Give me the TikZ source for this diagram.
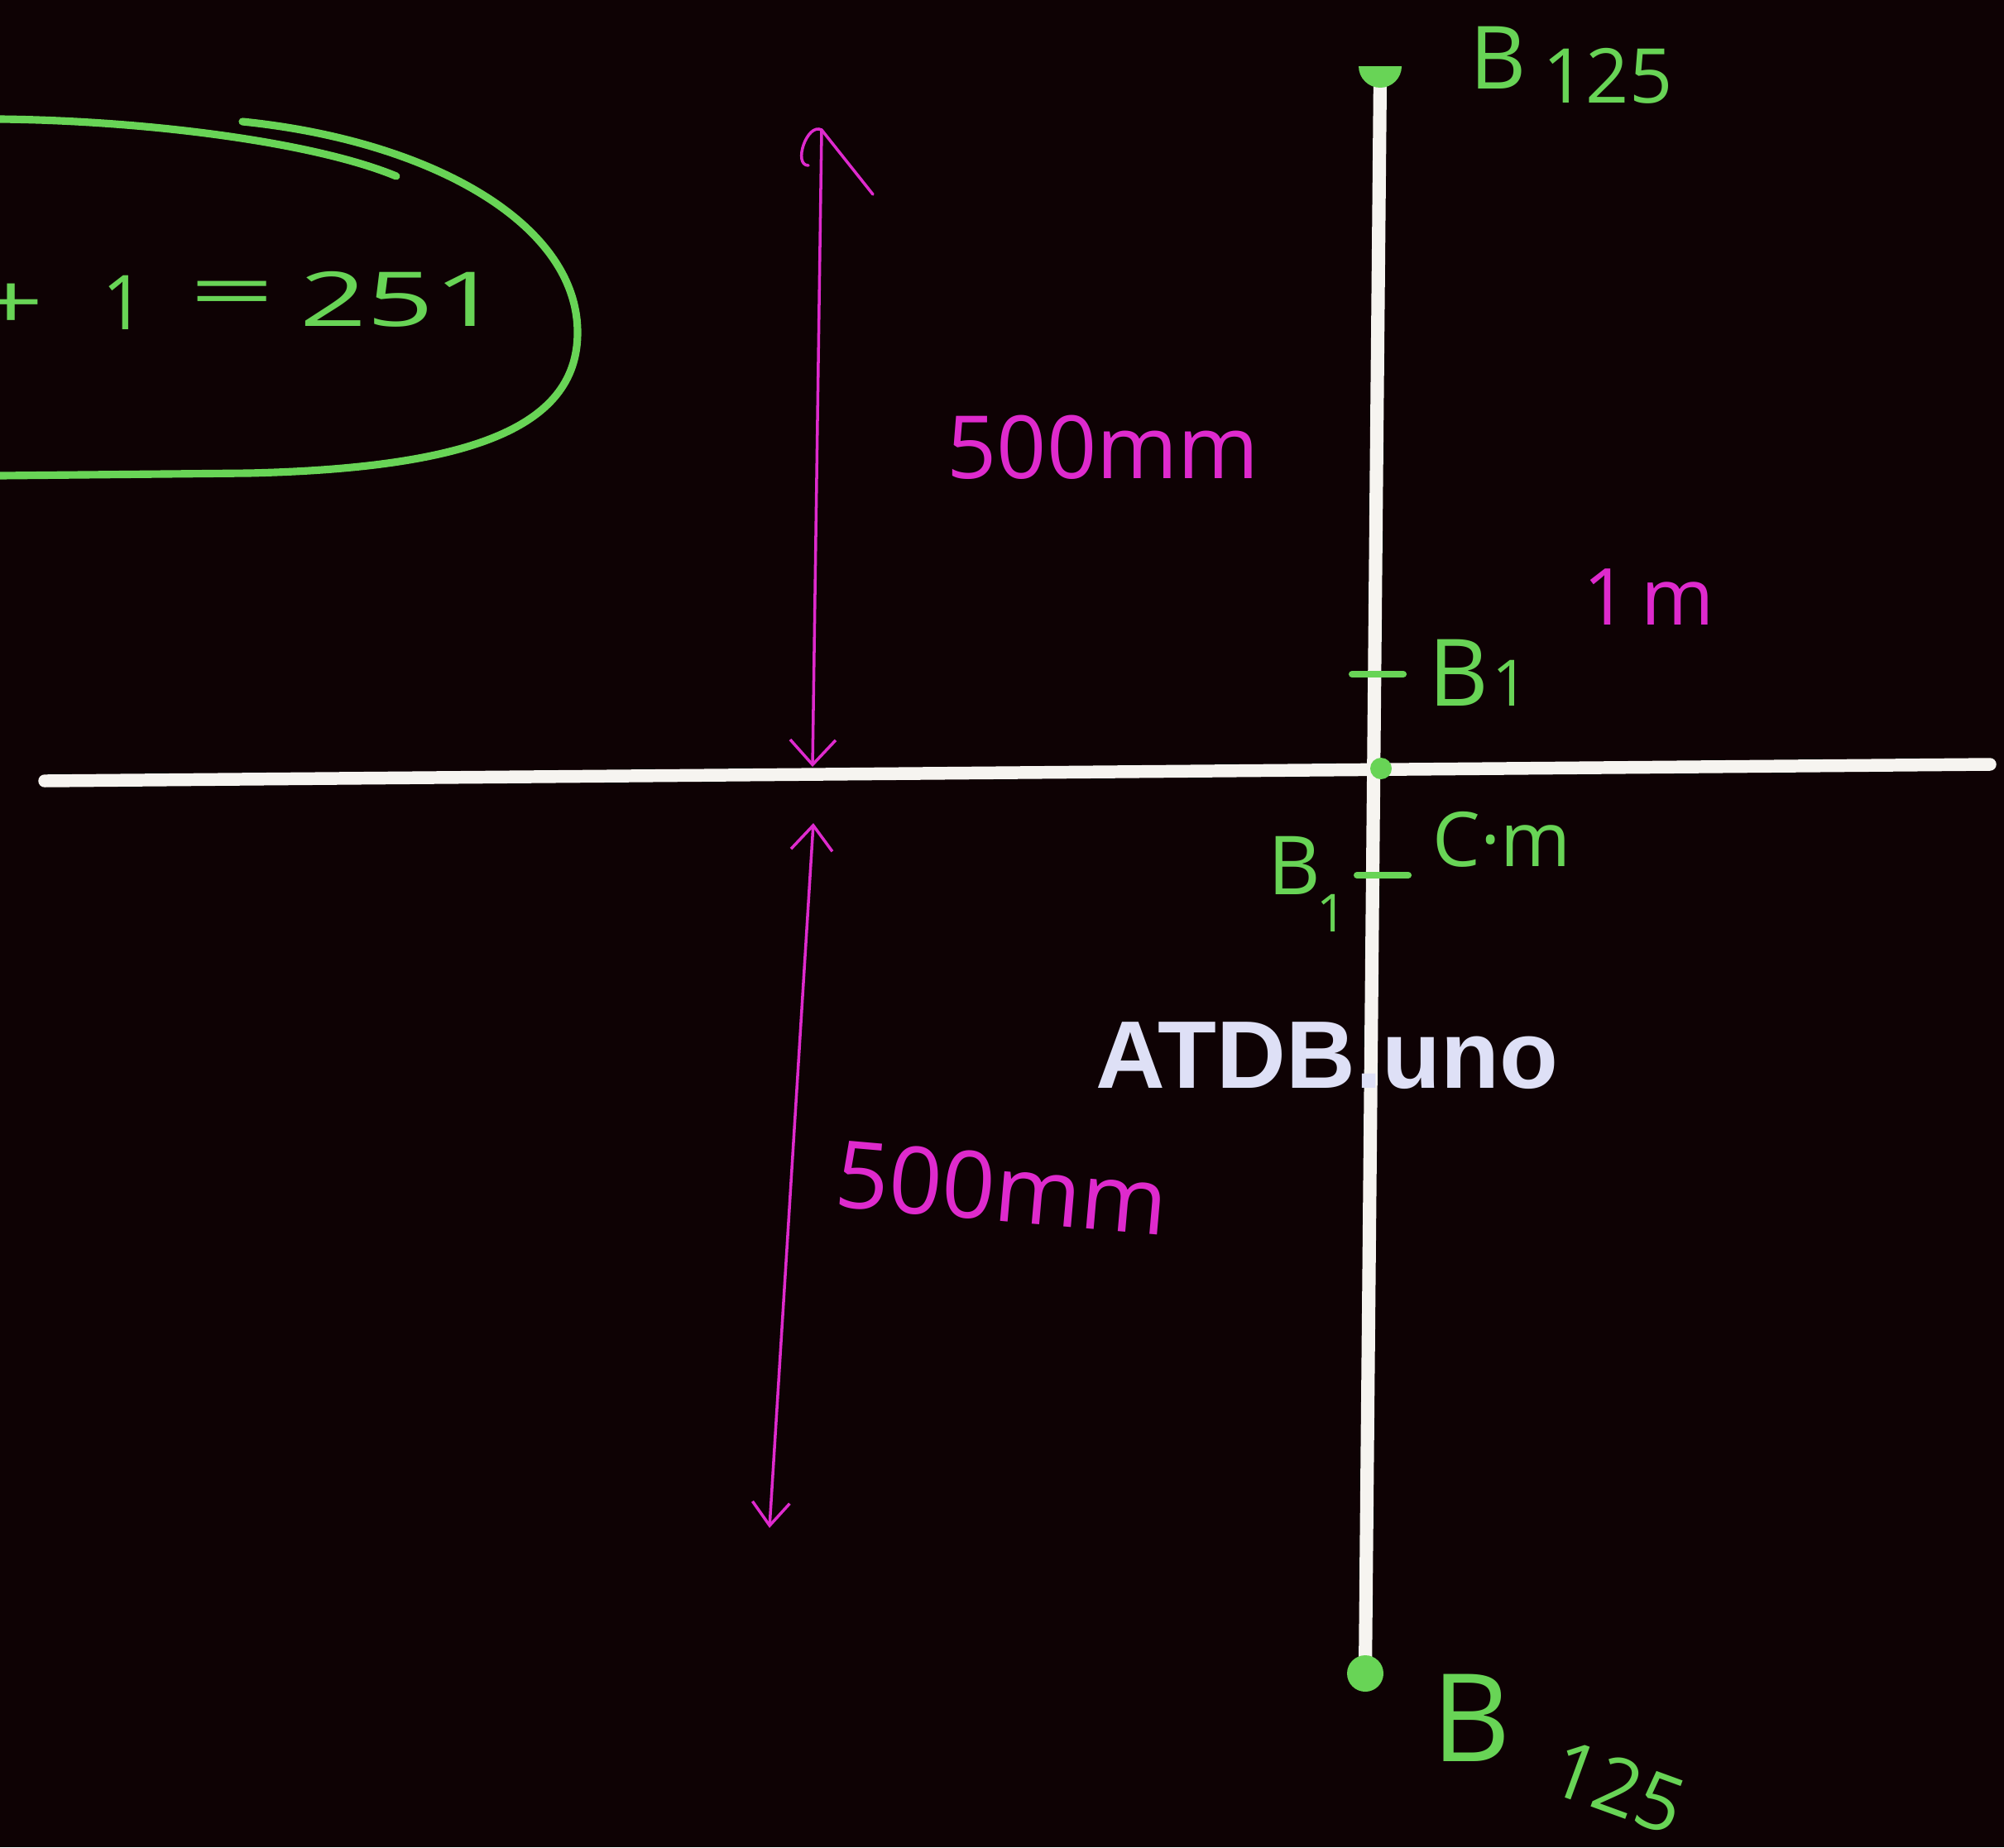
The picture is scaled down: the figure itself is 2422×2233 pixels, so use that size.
\documentclass[tikz,border=0pt]{standalone}
\usepackage{fontspec}
\setmainfont{Open Sans}
\newfontfamily\markfont{Liberation Sans}
\usepackage{xcolor}
\usepackage{tikz}
\usetikzlibrary{arrows.meta}
\definecolor{boardbg}{RGB}{14, 2, 4}
\definecolor{chalkgreen}{RGB}{104, 212, 86}
\definecolor{inkpink}{RGB}{222, 42, 205}
\definecolor{chalkwhite}{RGB}{246, 244, 240}
\definecolor{markgray}{RGB}{222, 224, 246}

\begin{document}
\begin{tikzpicture}[x=0.01cm, y=-0.01cm, line cap=round,
  greenlbl/.style={text=chalkgreen, inner sep=0pt},
  pinklbl/.style={text=inkpink, inner sep=0pt},
  beam/.style={chalkwhite, line width=4.4pt},
  chalk/.style={chalkgreen, line width=2.6pt},
  dimline/.style={inkpink, line width=1pt}]

% Board
\fill[boardbg] (0,0) rectangle (2422,2233);
\useasboundingbox (0,0) rectangle (2422,2233);
\clip (0,0) rectangle (2422,2233);

% Circled result, cut at the left edge
\draw[chalk] (0,144) .. controls (180,146) and (380,172) .. (479,213);
\draw[chalk] (293,147) .. controls (520,170) and (698,270) .. (698,402)
  .. controls (698,520) and (560,566) .. (300,572) -- (0,575);
\node[greenlbl, font=\fontsize{26}{30}\selectfont, xscale=1.5] (plus) at (14,370) {+};
\node[greenlbl, font=\fontsize{26}{30}\selectfont] (one) at (150,366) {1};
\node[greenlbl, font=\fontsize{26}{30}\selectfont, xscale=2] (eq) at (281,362) {=};
\node[greenlbl, font=\fontsize{26}{30}\selectfont, xscale=1.55] (total) at (484,362) {251};

% Beams
\coordinate (axisL) at (54,944);
\coordinate (axisR) at (2405,924);
\coordinate (rodT) at (1668,93);
\coordinate (rodB) at (1650,2023);
\coordinate (cm) at (1669,929);
\draw[beam] (axisL) -- (axisR);
\draw[beam, line width=4.6pt] (rodT) -- (rodB);

% End marks and centre
\fill[chalkgreen] (1694,80) arc[start angle=0, end angle=180, radius=26] -- cycle;
\fill[chalkgreen] (rodB) circle[radius=22];
\fill[chalkgreen] (cm) circle[radius=13];

% Ticks next to the centre
\coordinate (tickUL) at (1634,815);
\coordinate (tickUR) at (1696,815);
\coordinate (tickLL) at (1640,1058);
\coordinate (tickLR) at (1702,1058);
\draw[chalk, line width=2.3pt] (tickUL) -- (tickUR);
\draw[chalk, line width=2.3pt] (tickLL) -- (tickLR);

% Green labels
\node[greenlbl, font=\fontsize{30}{34}\selectfont] (btop) at (1811,70) {B};
\node[greenlbl, font=\fontsize{26}{30}\selectfont] (btopidx) at (1943,92) {125};
\node[greenlbl, font=\fontsize{42}{46}\selectfont] (bbot) at (1778,2077) {B};
\node[greenlbl, font=\fontsize{27}{30}\selectfont, rotate=-20] (bbotidx) at (1956,2160) {125};
\node[greenlbl, font=\fontsize{32}{36}\selectfont] (bup) at (1763,813) {B};
\node[greenlbl, font=\fontsize{22}{26}\selectfont] (bupidx) at (1826,826) {1};
\node[greenlbl, font=\fontsize{28}{32}\selectfont] (blow) at (1564,1046) {B};
\node[greenlbl, font=\fontsize{18}{22}\selectfont] (blowidx) at (1610,1104) {1};
\node[greenlbl, font=\fontsize{26}{30}\selectfont] (cmlbl) at (1815,1015) {C·m};

% Dimension arrows
\coordinate (dimAtop) at (993,157);
\coordinate (dimAbot) at (982,927);
\coordinate (dimBtop) at (983,995);
\coordinate (dimBbot) at (930,1847);
\draw[dimline, -{Straight Barb[length=3mm,width=5.5mm]}] (dimAtop) -- (dimAbot);
\draw[dimline] (dimAtop) -- ++(62,78);
\draw[dimline] (dimAtop) .. controls (975,148) and (958,200) .. (977,200);
\draw[dimline, {Straight Barb[length=3mm,width=5mm]}-{Straight Barb[length=2.8mm,width=4.5mm]}] (dimBtop) -- (dimBbot);

% Pink labels
\node[pinklbl, font=\fontsize{30}{34}\selectfont] (halfup) at (1333,541) {500mm};
\node[pinklbl, font=\fontsize{32}{36}\selectfont, rotate=-5] (halflow) at (1211,1436) {500mm};
\node[pinklbl, font=\fontsize{27}{30}\selectfont] (len) at (1993,722) {1\,m};

% Watermark
\node[text=markgray, font=\markfont\bfseries\fontsize{33}{36}\selectfont, inner sep=0pt] (mark) at (1604,1276) {ATDB.uno};

\end{tikzpicture}
\end{document}
